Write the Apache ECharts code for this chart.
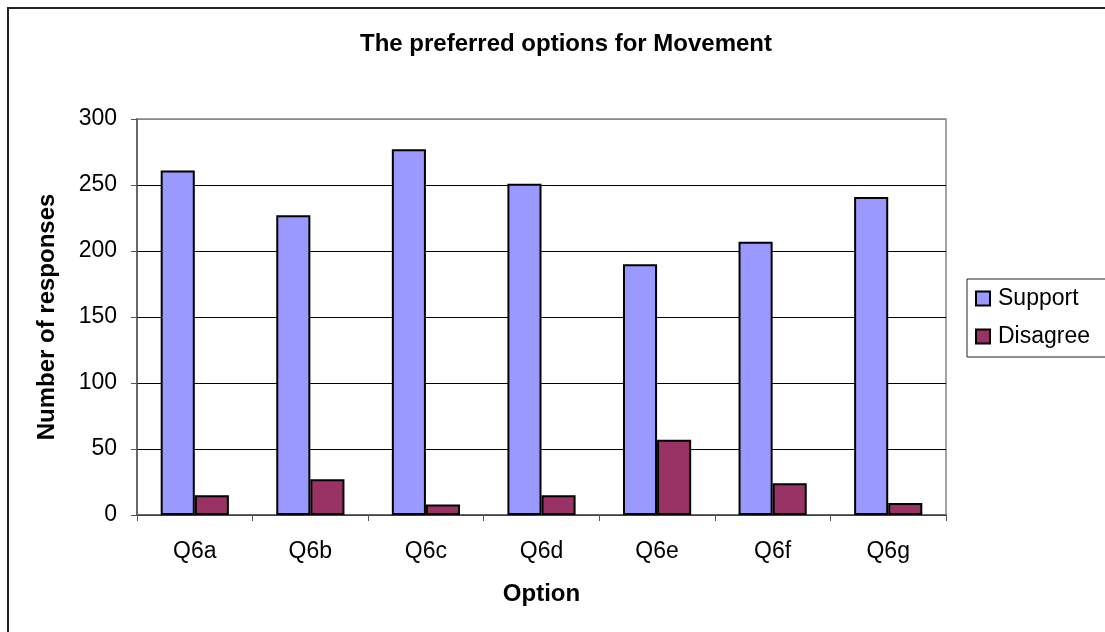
<!DOCTYPE html>
<html>
<head>
<meta charset="utf-8">
<script src="https://cdn.jsdelivr.net/npm/echarts@6/dist/echarts.min.js"></script>
<style>
  html, body { margin: 0; padding: 0; background: #fff; }
  #container { width: 1105px; height: 632px; }
</style>
</head>
<body>
<div id="container"></div>
<script type="text/javascript">
// chart data
var categories = ['Q6a', 'Q6b', 'Q6c', 'Q6d', 'Q6e', 'Q6f', 'Q6g'];
var support = [261, 227, 277, 251, 190, 207, 241];
var disagree = [15, 27, 8, 15, 57, 24, 9];

var font = 'Liberation Sans, Arial, sans-serif';
var dom = document.getElementById('container');
var myChart = echarts.init(dom);

var option = {
    animation: false,
    textStyle: { fontFamily: font },
    title: {
        text: 'The preferred options for Movement',
        left: 561,
        top: 27,
        textAlign: 'center',
        textStyle: { fontSize: 24, fontWeight: 'bold', color: '#000', fontFamily: font }
    },
    graphic: [{
        type: 'rect',
        shape: { x: 8, y: 8, width: 1200, height: 700 },
        style: { fill: 'none', stroke: '#222', lineWidth: 2 },
        silent: true
    }],
    legend: {
        orient: 'vertical',
        left: 967,
        top: 279,
        padding: [8, 22, 9, 8],
        itemGap: 15,
        itemWidth: 14,
        itemHeight: 14,
        borderColor: '#222',
        borderWidth: 1,
        icon: 'rect',
        itemStyle: { borderColor: '#000', borderWidth: 2 },
        textStyle: { fontSize: 23, color: '#000', fontFamily: font, padding: [0, 0, 0, 3] },
        data: ['Support', 'Disagree']
    },
    grid: {
        left: 137,
        right: 159,
        top: 119,
        bottom: 117,
        show: true,
        borderColor: '#888',
        borderWidth: 1.5,
        containLabel: false
    },
    xAxis: {
        type: 'category',
        data: categories,
        name: 'Option',
        nameLocation: 'middle',
        nameGap: 67,
        nameTextStyle: { fontSize: 24, fontWeight: 'bold', color: '#000', fontFamily: font },
        axisLine: { lineStyle: { color: '#555', width: 1.5 } },
        axisTick: { show: true, length: 6, lineStyle: { color: '#555' } },
        axisLabel: { fontSize: 23, color: '#000', margin: 25, fontFamily: font }
    },
    yAxis: {
        type: 'value',
        min: 0,
        max: 300,
        interval: 50,
        name: 'Number of responses',
        nameLocation: 'middle',
        nameGap: 78,
        nameTextStyle: { fontSize: 24, fontWeight: 'bold', color: '#000', fontFamily: font },
        axisLine: { show: true, lineStyle: { color: '#555', width: 1.5 } },
        axisTick: { show: true, length: 6, lineStyle: { color: '#555' } },
        axisLabel: { fontSize: 23, color: '#000', margin: 20, fontFamily: font },
        splitLine: {
            show: true,
            lineStyle: { color: ['#000', '#000', '#000', '#000', '#000', '#000', '#888'], width: 1 }
        }
    },
    series: [
        {
            name: 'Support',
            type: 'bar',
            barGap: '0%',
            barCategoryGap: '41%',
            itemStyle: { color: '#9999FF', borderColor: '#000', borderWidth: 2 },
            data: support
        },
        {
            name: 'Disagree',
            type: 'bar',
            itemStyle: { color: '#993366', borderColor: '#000', borderWidth: 2 },
            data: disagree
        }
    ]
};
if (option && typeof option === "object") {
    myChart.setOption(option, true);
}
</script>
</body>
</html>
